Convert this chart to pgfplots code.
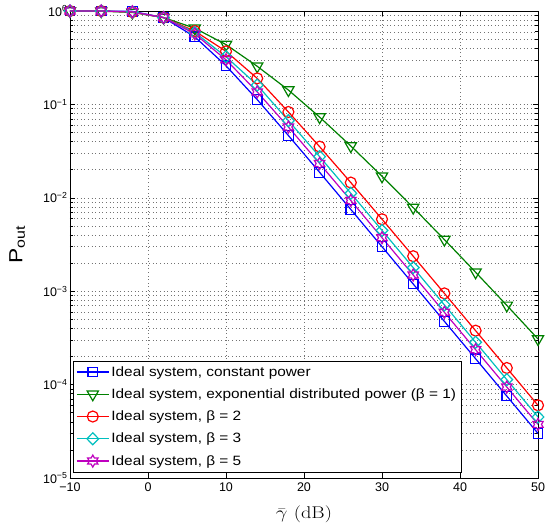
\documentclass[border=0pt]{standalone}
\usepackage{pgfplots}
\pgfplotsset{compat=1.18}
\usepackage{graphicx}
\usepackage{fontspec}
\newfontfamily\arial{Liberation Sans}
\newfontfamily\arialw{Liberation Sans}[FakeStretch=1.14]
\definecolor{mgreen}{rgb}{0,0.5,0}
\definecolor{mcyan}{rgb}{0,0.75,0.75}
\definecolor{mmag}{rgb}{0.75,0,0.75}
\pgfdeclareplotmark{hexagram}{%
  \pgfpathmoveto{\pgfpointpolar{90}{\pgfplotmarksize}}%
  \pgfpathlineto{\pgfpointpolar{120}{0.577\pgfplotmarksize}}%
  \pgfpathlineto{\pgfpointpolar{150}{\pgfplotmarksize}}%
  \pgfpathlineto{\pgfpointpolar{180}{0.577\pgfplotmarksize}}%
  \pgfpathlineto{\pgfpointpolar{210}{\pgfplotmarksize}}%
  \pgfpathlineto{\pgfpointpolar{240}{0.577\pgfplotmarksize}}%
  \pgfpathlineto{\pgfpointpolar{270}{\pgfplotmarksize}}%
  \pgfpathlineto{\pgfpointpolar{300}{0.577\pgfplotmarksize}}%
  \pgfpathlineto{\pgfpointpolar{330}{\pgfplotmarksize}}%
  \pgfpathlineto{\pgfpointpolar{0}{0.577\pgfplotmarksize}}%
  \pgfpathlineto{\pgfpointpolar{30}{\pgfplotmarksize}}%
  \pgfpathlineto{\pgfpointpolar{60}{0.577\pgfplotmarksize}}%
  \pgfpathclose\pgfusepathqstroke}
\begin{document}
\begin{tikzpicture}
\begin{axis}[
  scale only axis, width=468pt, height=467pt,
  xmin=-10, xmax=50, ymode=log, ymin=1e-5, ymax=1,
  xtick={-10,0,10,20,30,40,50}, xticklabels={−10,0,10,20,30,40,50},
  minor x tick num=0,
  ytick={1e-5,1e-4,1e-3,1e-2,1e-1,1},
  yticklabels={10\textsuperscript{−5},10\textsuperscript{−4},10\textsuperscript{−3},10\textsuperscript{−2},10\textsuperscript{−1},10\textsuperscript{0}},
  tick label style={font=\arial\fontsize{12.5}{14}\selectfont},
  yticklabel style={xshift=1pt},
  xticklabel style={yshift=-1pt},
  tick align=inside, major tick length=5pt, minor tick length=3pt,
  xmajorgrids, ymajorgrids, yminorgrids,
  major grid style={black!55, dash pattern=on 0.8pt off 2.8pt},
  minor grid style={black!55, dash pattern=on 0.8pt off 2.8pt},
  axis line style={line width=0.6pt},
  every tick/.style={black, line width=0.5pt},
  xlabel={\scalebox{1.2}[1]{$\bar{\gamma}$ (dB)}},
  xlabel style={font=\fontsize{17}{19}\selectfont, at={(axis description cs:0.5,-0.077)}, anchor=center},
  ylabel={\scalebox{1.2}[1]{P\textsubscript{out}}},
  ylabel style={font=\arial\fontsize{19}{21}\selectfont, at={(axis description cs:-0.113,0.5)}, anchor=center, rotate=0},
  legend style={at={(rel axis cs:0.0064,0.013)}, anchor=south west,
    font=\arialw\fontsize{13.5}{16}\selectfont, row sep=7pt,
    draw=black, inner sep=3pt},
  legend cell align=left,
  legend image code/.code={\draw[mark repeat=2,mark phase=2,#1] plot coordinates {(0pt,0pt) (16pt,0pt) (32pt,0pt)};},
]
\addplot[blue, line width=1.2pt, mark=square, mark size=4.8pt] coordinates {
(-10,1.0) (-6,1.0) (-2,0.9914) (2,0.849) (6,0.529) (10,0.2592) (14,0.1126) (18,0.04643)
(22,0.01875) (26,0.007508) (30,0.002996) (34,0.001194) (38,4.754e-4) (42,1.893e-4) (46,7.536e-5) (50,3.0e-5)};
\addlegendentry{Ideal system, constant power}
\addplot[mgreen, line width=1.2pt, mark=triangle, mark size=6.5pt, mark options={rotate=180}] coordinates {
(-10,0.99993) (-6,0.9965) (-2,0.964) (2,0.851) (6,0.654) (10,0.437) (14,0.256) (18,0.1425)
(22,0.0732) (26,0.03585) (30,0.0170) (34,0.00786) (38,0.00357) (42,0.001596) (46,7.05e-4) (50,3.08e-4)};
\addlegendentry{Ideal system, exponential distributed power (β = 1)}
\addplot[red, line width=1.2pt, mark=o, mark size=5.5pt] coordinates {
(-10,1.0) (-6,0.999) (-2,0.973) (2,0.849) (6,0.61) (10,0.37) (14,0.19) (18,0.083)
(22,0.0353) (26,0.01456) (30,0.00590) (34,0.00237) (38,9.475e-4) (42,3.78e-4) (46,1.507e-4) (50,6.0e-5)};
\addlegendentry{Ideal system, β = 2}
\addplot[mcyan, line width=1.2pt, mark=diamond, mark size=6pt, mark options={xscale=1.3}] coordinates {
(-10,1.0) (-6,0.9995) (-2,0.978) (2,0.849) (6,0.589) (10,0.324) (14,0.161) (18,0.067)
(22,0.0276) (26,0.01118) (30,0.00448) (34,0.001788) (38,7.13e-4) (42,2.84e-4) (46,1.13e-4) (50,4.5e-5)};
\addlegendentry{Ideal system, β = 3}
\addplot[mmag, line width=1.2pt, mark=hexagram, mark size=6pt] coordinates {
(-10,1.0) (-6,1.0) (-2,0.98) (2,0.850) (6,0.569) (10,0.300) (14,0.136) (18,0.0572)
(22,0.0233) (26,0.00936) (30,0.00374) (34,0.001491) (38,5.94e-4) (42,2.366e-4) (46,9.42e-5) (50,3.75e-5)};
\addlegendentry{Ideal system, β = 5}
\end{axis}
\pgfresetboundingbox
\path ([shift={(-70pt,-45pt)}]current axis.south west) rectangle ([shift={(8pt,11pt)}]current axis.north east);
\end{tikzpicture}
\end{document}
